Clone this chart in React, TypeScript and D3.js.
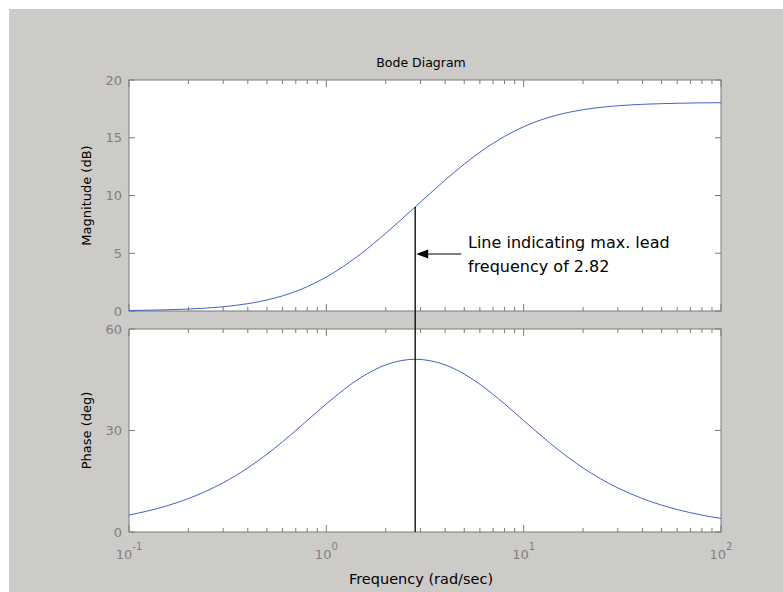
import React from "react";
import * as d3 from "d3";

const freqs = [0.1, 0.15, 0.2, 0.3, 0.4, 0.5, 0.6, 0.8, 1, 1.5, 2, 2.82, 4, 5, 6, 8, 10, 15, 20, 30, 40, 50, 60, 80, 100];
const magnitudeDb = [0.04, 0.095, 0.168, 0.368, 0.634, 0.952, 1.311, 2.105, 2.943, 4.969, 6.727, 9.01, 11.335, 12.718, 13.744, 15.119, 15.957, 16.994, 17.428, 17.768, 17.894, 17.953, 17.987, 18.02, 18.034];
const phaseDeg = [4.995, 7.457, 9.878, 14.551, 18.939, 22.989, 26.675, 32.949, 37.875, 45.69, 49.399, 51.05, 49.399, 46.685, 43.668, 37.875, 32.949, 24.258, 18.939, 13.022, 9.878, 7.944, 6.64, 4.995, 4.001];
const magTicks = [0, 5, 10, 15, 20];
const phaseTicks = [0, 30, 60];
const decadeExps = [-1, 0, 1, 2];
const maxLeadFreq = 2.82;
const maxLeadMag = 9.01;

const W = 783, H = 592;
const L = 129, R = 721;
const magTop = 80, magBot = 311;
const phTop = 329, phBot = 532;
const axisCol = "#7a7a7a";
const lineCol = "#4262c4";
const font = "'DejaVu Sans', Verdana, sans-serif";

export default function App() {
  const x = d3.scaleLog().domain([0.1, 100]).range([L, R]);
  const yMag = d3.scaleLinear().domain([0, 20]).range([magBot, magTop]);
  const yPh = d3.scaleLinear().domain([0, 60]).range([phBot, phTop]);

  const magLine = d3.line<number>().x((_, i) => x(freqs[i])).y((d) => yMag(d)).curve(d3.curveMonotoneX);
  const phLine = d3.line<number>().x((_, i) => x(freqs[i])).y((d) => yPh(d)).curve(d3.curveMonotoneX);

  const minor: number[] = [];
  for (let e = -1; e < 2; e++) for (let k = 2; k <= 9; k++) minor.push(k * Math.pow(10, e));
  const major = decadeExps.map((e) => Math.pow(10, e));

  const frame = (top: number, bot: number, yScale: d3.ScaleLinear<number, number>, ticks: number[], key: string) => (
    <g key={key}>
      <rect x={L} y={top} width={R - L} height={bot - top} fill="#fff" stroke={axisCol} strokeWidth={1} />
      {minor.map((f) => (
        <g key={"mi" + f}>
          <line x1={x(f)} x2={x(f)} y1={top} y2={top + 4} stroke={axisCol} />
          <line x1={x(f)} x2={x(f)} y1={bot} y2={bot - 4} stroke={axisCol} />
        </g>
      ))}
      {major.map((f) => (
        <g key={"ma" + f}>
          <line x1={x(f)} x2={x(f)} y1={top} y2={top + 7} stroke={axisCol} />
          <line x1={x(f)} x2={x(f)} y1={bot} y2={bot - 7} stroke={axisCol} />
        </g>
      ))}
      {ticks.map((t) => (
        <g key={"yt" + t}>
          <line x1={L} x2={L + 6} y1={yScale(t)} y2={yScale(t)} stroke={axisCol} />
          <line x1={R} x2={R - 6} y1={yScale(t)} y2={yScale(t)} stroke={axisCol} />
          <text x={L - 7} y={yScale(t)} dy="0.36em" textAnchor="end" fontSize={13} fill="#808080" fontFamily={font}>{t}</text>
        </g>
      ))}
    </g>
  );

  const xv = x(maxLeadFreq);

  return (
    <svg width={W} height={H} style={{ position: "absolute", left: 0, top: 0 }}>
      <rect x={0} y={0} width={W} height={H} fill="#fff" />
      <rect x={9} y={9} width={W - 9} height={H - 9} fill="#cdcbc8" />
      <text x={421} y={67} textAnchor="middle" fontSize={12.5} fontFamily={font} fill="#000">Bode Diagram</text>
      {frame(magTop, magBot, yMag, magTicks, "mag")}
      {frame(phTop, phBot, yPh, phaseTicks, "ph")}
      <path d={magLine(magnitudeDb) || ""} fill="none" stroke={lineCol} strokeWidth={1} />
      <path d={phLine(phaseDeg) || ""} fill="none" stroke={lineCol} strokeWidth={1} />
      <line x1={xv} x2={xv} y1={yMag(maxLeadMag)} y2={phBot} stroke="#000" strokeWidth={1.3} />
      <line x1={xv + 10} x2={xv + 46} y1={254} y2={254} stroke="#000" strokeWidth={1.2} />
      <path d={`M${xv + 1},254 L${xv + 13},249.5 L${xv + 13},258.5 Z`} fill="#000" />
      <text x={468} y={248} fontSize={16} fontFamily={font} fill="#000">Line indicating max. lead</text>
      <text x={468} y={272} fontSize={16} fontFamily={font} fill="#000">frequency of 2.82</text>
      {decadeExps.map((e) => (
        <text key={"xl" + e} x={x(Math.pow(10, e))} y={559} textAnchor="middle" fontSize={13} fill="#808080" fontFamily={font}>
          10<tspan dy={-9} fontSize={10}>{e}</tspan>
        </text>
      ))}
      <text x={421} y={584} textAnchor="middle" fontSize={14.5} fontFamily={font} fill="#000">Frequency  (rad/sec)</text>
      <text transform={`translate(91,${(magTop + magBot) / 2}) rotate(-90)`} textAnchor="middle" fontSize={13} fontFamily={font} fill="#000">Magnitude (dB)</text>
      <text transform={`translate(91,${(phTop + phBot) / 2}) rotate(-90)`} textAnchor="middle" fontSize={13} fontFamily={font} fill="#000">Phase (deg)</text>
    </svg>
  );
}
